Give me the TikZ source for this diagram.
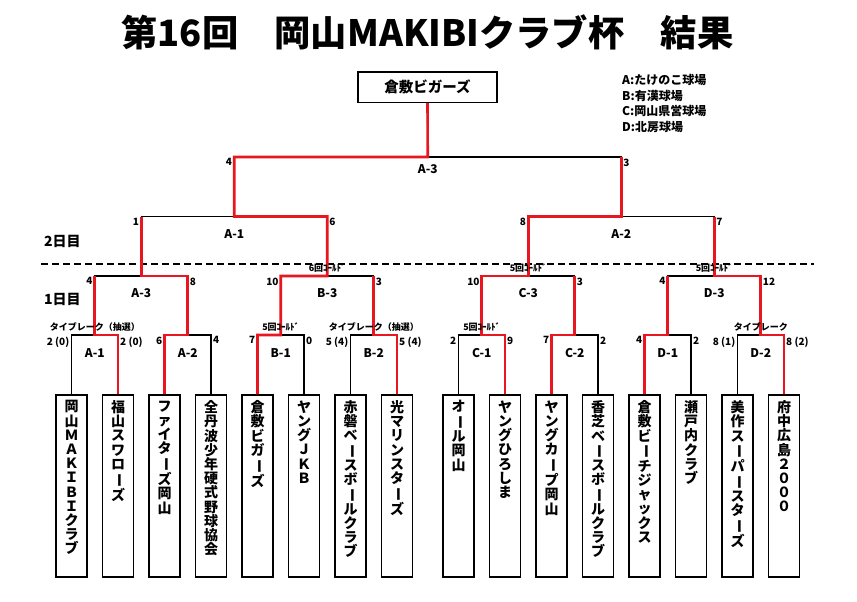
\documentclass[tikz,border=0pt]{standalone}
\usepackage{fontspec}
\newfontfamily\jp{Noto Sans CJK JP}
\definecolor{wred}{RGB}{232,22,30}
\newcommand{\VL}{\rotatebox[origin=c]{-90}{ー}}
\begin{document}
\begin{tikzpicture}[x=1pt,y=-1pt,
  line/.style={line width=1.2pt, black},
  win/.style={line width=2.6pt, wred},
  teambox/.style={draw, line width=1.2pt, minimum width=31pt, minimum height=182pt, inner sep=0pt},
  teamtext/.style={anchor=north, align=center, inner sep=0pt, font=\jp\bfseries\fontsize{14}{14.2}\selectfont},
  score/.style={font=\jp\bfseries\fontsize{10}{10}\selectfont, inner sep=0pt},
  sl/.style={score, anchor=north east, xshift=-2pt, yshift=-1.5pt},
  sr/.style={score, anchor=north west, xshift=2pt, yshift=-1.5pt},
  mlabel/.style={font=\jp\bfseries\fontsize{12}{12}\selectfont, inner sep=0pt},
  note/.style={font=\jp\bfseries\fontsize{9}{9}\selectfont, inner sep=0pt, anchor=south, yshift=3.5pt},
  daylabel/.style={font=\jp\bfseries\fontsize{14}{14}\selectfont, inner sep=0pt, anchor=west},
  legend/.style={font=\jp\bfseries\fontsize{12}{12}\selectfont, inner sep=0pt, anchor=west},
]
\useasboundingbox[fill=white] (0,0) rectangle (857,602);

% title
\node[font=\jp\bfseries\fontsize{36.3}{40}\selectfont, inner sep=0pt] (title) at (427.5,32) {第16回　岡山MAKIBIクラブ杯　結果};

% legend
\node[legend] (lgA) at (622,79.5) {A:たけのこ球場};
\node[legend] (lgB) at (622,95.5) {B:有漢球場};
\node[legend] (lgC) at (622,111) {C:岡山県営球場};
\node[legend] (lgD) at (622,126.5) {D:北房球場};

% day labels and divider
\node[daylabel] (day2) at (44,241) {2日目};
\node[daylabel] (day1) at (44,299) {1日目};
\coordinate (d1) at (41,264);
\coordinate (d2) at (814,264);
\draw[line, dash pattern=on 7pt off 4pt] (d1) -- (d2);

% champion
\node[draw, line width=1.2pt, minimum width=139pt, minimum height=30.5pt, inner sep=0pt,
      font=\jp\bfseries\fontsize{14.5}{15}\selectfont] (champ) at (427.5,87.3) {倉敷ビガーズ};

% team boxes
\foreach \i/\x in {1/71.5,2/118,3/164.5,4/211,5/257.5,6/304,7/350.5,8/397,
                   9/458.5,10/505,11/551.5,12/598,13/644.5,14/691,15/737.5,16/784}
  \node[teambox] (t\i) at (\x,486) {};

\node[teamtext] (n1) at ([yshift=-6pt]t1.north) {岡\\山\\Ｍ\\Ａ\\Ｋ\\Ｉ\\Ｂ\\Ｉ\\ク\\ラ\\ブ};
\node[teamtext] (n2) at ([yshift=-6pt]t2.north) {福\\山\\ス\\ワ\\ロ\\\VL\\ズ};
\node[teamtext] (n3) at ([yshift=-6pt]t3.north) {フ\\ァ\\イ\\タ\\\VL\\ズ\\岡\\山};
\node[teamtext] (n4) at ([yshift=-6pt]t4.north) {全\\丹\\波\\少\\年\\硬\\式\\野\\球\\協\\会};
\node[teamtext] (n5) at ([yshift=-6pt]t5.north) {倉\\敷\\ビ\\ガ\\\VL\\ズ};
\node[teamtext] (n6) at ([yshift=-6pt]t6.north) {ヤ\\ン\\グ\\Ｊ\\Ｋ\\Ｂ};
\node[teamtext] (n7) at ([yshift=-6pt]t7.north) {赤\\磐\\ベ\\\VL\\ス\\ボ\\\VL\\ル\\ク\\ラ\\ブ};
\node[teamtext] (n8) at ([yshift=-6pt]t8.north) {光\\マ\\リ\\ン\\ス\\タ\\\VL\\ズ};
\node[teamtext] (n9) at ([yshift=-6pt]t9.north) {オ\\\VL\\ル\\岡\\山};
\node[teamtext] (n10) at ([yshift=-6pt]t10.north) {ヤ\\ン\\グ\\ひ\\ろ\\し\\ま};
\node[teamtext] (n11) at ([yshift=-6pt]t11.north) {ヤ\\ン\\グ\\カ\\\VL\\プ\\岡\\山};
\node[teamtext] (n12) at ([yshift=-6pt]t12.north) {香\\芝\\ベ\\\VL\\ス\\ボ\\\VL\\ル\\ク\\ラ\\ブ};
\node[teamtext] (n13) at ([yshift=-6pt]t13.north) {倉\\敷\\ビ\\\VL\\チ\\ジ\\ャ\\ッ\\ク\\ス};
\node[teamtext] (n14) at ([yshift=-6pt]t14.north) {瀬\\戸\\内\\ク\\ラ\\ブ};
\node[teamtext] (n15) at ([yshift=-6pt]t15.north) {美\\作\\ス\\\VL\\パ\\\VL\\ス\\タ\\\VL\\ズ};
\node[teamtext] (n16) at ([yshift=-6pt]t16.north) {府\\中\\広\\島\\２\\０\\０\\０};

% junctions
\foreach \k/\x in {1/94.75,2/187.75,3/280.75,4/373.75,5/481.75,6/574.75,7/667.75,8/760.75}
  \coordinate (m\k) at (\x,335);
\foreach \k/\x in {1/141.25,2/327.25,3/528.25,4/714.25}
  \coordinate (p\k) at (\x,276);
\coordinate (q1) at (234.25,216.5);
\coordinate (q2) at (621.25,216.5);
\coordinate (f) at (427.75,157);

% black bracket
\foreach \k in {1,...,8}{
  \pgfmathtruncatemacro\a{2*\k-1}
  \pgfmathtruncatemacro\b{2*\k}
  \draw[line] (t\a.north) |- (m\k) -| (t\b.north);
}
\draw[line] (m1) |- (p1) -| (m2);
\draw[line] (m3) |- (p2) -| (m4);
\draw[line] (m5) |- (p3) -| (m6);
\draw[line] (m7) |- (p4) -| (m8);
\draw[line] (p1) |- (q1) -| (p2);
\draw[line] (p3) |- (q2) -| (p4);
\draw[line] (q1) |- (f) -| (q2);
\draw[line] (f) -- (champ.south);

% winners
\draw[win] (t2.north) |- (m1) -- (m1 |- p1);
\draw[win] (t3.north) |- (m2) |- (p1) -- (p1 |- q1);
\draw[win] (t5.north) |- (m3) |- (p2) |- (q1) |- (f) -- (champ.south);
\draw[win] (t8.north) |- (m4) -- (m4 |- p2);
\draw[win] (t10.north) |- (m5) |- (p3) |- (q2) -- (q2 |- f);
\draw[win] (t11.north) |- (m6) -- (m6 |- p3);
\draw[win] (t13.north) |- (m7) -- (m7 |- p4);
\draw[win] (t16.north) |- (m8) |- (p4) -- (p4 |- q2);

% round 1 scores
\node[sl] (s1a) at (t1.north |- m1) {2 (0)};   \node[sr] (s1b) at (t2.north |- m1) {2 (0)};
\node[sl] (s2a) at (t3.north |- m2) {6};       \node[sr] (s2b) at (t4.north |- m2) {4};
\node[sl] (s3a) at (t5.north |- m3) {7};       \node[sr] (s3b) at (t6.north |- m3) {0};
\node[sl] (s4a) at (t7.north |- m4) {5 (4)};   \node[sr] (s4b) at (t8.north |- m4) {5 (4)};
\node[sl] (s5a) at (t9.north |- m5) {2};       \node[sr] (s5b) at (t10.north |- m5) {9};
\node[sl] (s6a) at (t11.north |- m6) {7};      \node[sr] (s6b) at (t12.north |- m6) {2};
\node[sl] (s7a) at (t13.north |- m7) {4};      \node[sr] (s7b) at (t14.north |- m7) {2};
\node[sl] (s8a) at (t15.north |- m8) {8 (1)};  \node[sr] (s8b) at (t16.north |- m8) {8 (2)};
% round 2 scores
\node[sl] (r1a) at (m1 |- p1) {4};   \node[sr] (r1b) at (m2 |- p1) {8};
\node[sl] (r2a) at (m3 |- p2) {10};  \node[sr] (r2b) at (m4 |- p2) {3};
\node[sl] (r3a) at (m5 |- p3) {10};  \node[sr] (r3b) at (m6 |- p3) {3};
\node[sl] (r4a) at (m7 |- p4) {4};   \node[sr] (r4b) at (m8 |- p4) {12};
% semifinal scores
\node[sl] (u1a) at (p1 |- q1) {1};   \node[sr] (u1b) at (p2 |- q1) {6};
\node[sl] (u2a) at (p3 |- q2) {8};   \node[sr] (u2b) at (p4 |- q2) {7};
% final scores
\node[sl] (fa) at (q1 |- f) {4};     \node[sr] (fb) at (q2 |- f) {3};

% match labels
\node[mlabel] (g1) at ([yshift=-18pt]m1) {A-1};
\node[mlabel] (g2) at ([yshift=-18pt]m2) {A-2};
\node[mlabel] (g3) at ([yshift=-18pt]m3) {B-1};
\node[mlabel] (g4) at ([yshift=-18pt]m4) {B-2};
\node[mlabel] (g5) at ([yshift=-18pt]m5) {C-1};
\node[mlabel] (g6) at ([yshift=-18pt]m6) {C-2};
\node[mlabel] (g7) at ([yshift=-18pt]m7) {D-1};
\node[mlabel] (g8) at ([yshift=-18pt]m8) {D-2};
\node[mlabel] (h1) at ([yshift=-17pt]p1) {A-3};
\node[mlabel] (h2) at ([yshift=-17pt]p2) {B-3};
\node[mlabel] (h3) at ([yshift=-17pt]p3) {C-3};
\node[mlabel] (h4) at ([yshift=-17pt]p4) {D-3};
\node[mlabel] (k1) at ([yshift=-17.5pt]q1) {A-1};
\node[mlabel] (k2) at ([yshift=-17.5pt]q2) {A-2};
\node[mlabel] (kf) at ([yshift=-12.5pt]f) {A-3};

% notes
\node[note] (o1) at (m1) {タイブレーク（抽選）};
\node[note] (o3) at (m3) {5回ｺｰﾙﾄﾞ};
\node[note] (o4) at (m4) {タイブレーク（抽選）};
\node[note] (o5) at (m5) {5回ｺｰﾙﾄﾞ};
\node[note] (o8) at (m8) {タイブレーク};
\node[note] (o9) at (p2) {6回ｺｰﾙﾄﾞ};
\node[note] (o10) at (p3) {5回ｺｰﾙﾄﾞ};
\node[note] (o11) at (p4) {5回ｺｰﾙﾄﾞ};
\end{tikzpicture}
\end{document}
